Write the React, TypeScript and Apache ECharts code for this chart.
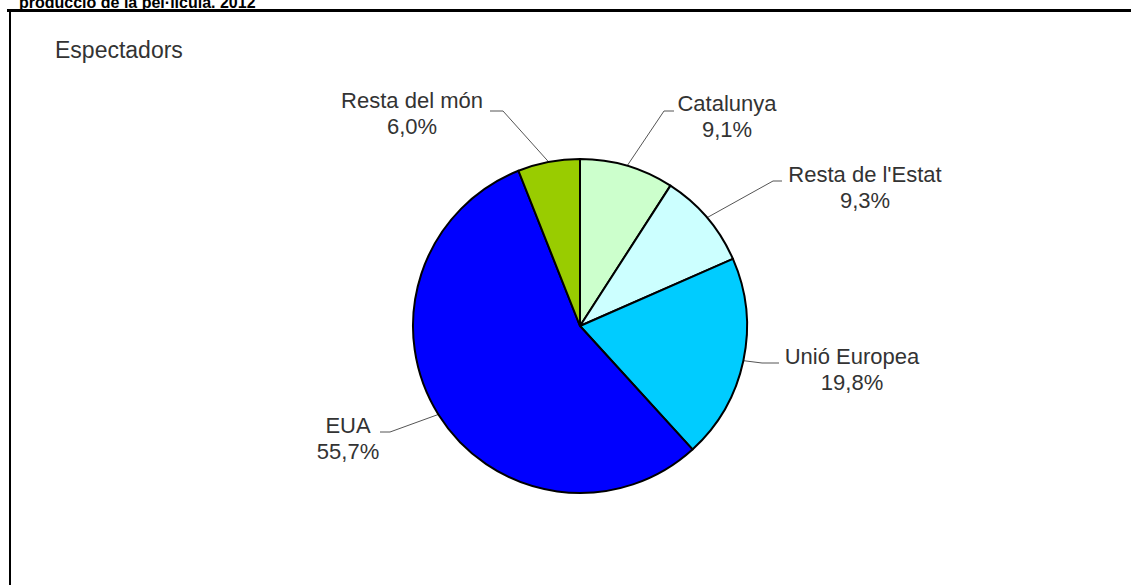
import React, { useEffect, useRef } from "react";
import * as echarts from "echarts";

const categories = ["Catalunya", "Resta de l'Estat", "Unió Europea", "EUA", "Resta del món"];
const values = [9.1, 9.3, 19.8, 55.7, 6.0];
const colors = ["#ccffcc", "#ccffff", "#00ccff", "#0000ff", "#99cc00"];
const titleText = "producció de la pel·lícula. 2012";
const subtitleText = "Espectadors";

// label placement: block centre, elbow of leader line, end of leader line
const labelPlacement = [
  { cx: 727, cy: 116, elbow: [664, 111], end: [674, 111] },
  { cx: 865, cy: 187, elbow: [773, 181], end: [782, 181] },
  { cx: 852, cy: 369, elbow: [762, 363], end: [779, 363] },
  { cx: 348, cy: 438, elbow: [390, 432], end: [380, 432] },
  { cx: 412, cy: 113, elbow: [503, 111], end: [490, 111] },
];

export default function App() {
  const ref = useRef<HTMLDivElement>(null);
  useEffect(() => {
    const chart = echarts.init(ref.current!, null, { renderer: "svg" });
    chart.setOption({
      animation: false,
      backgroundColor: "#ffffff",
      graphic: [
        {
          type: "text",
          x: 19,
          y: 10.5,
          style: {
            text: titleText,
            font: "bold 16px Arial, 'Liberation Sans', sans-serif",
            fill: "#000",
            verticalAlign: "bottom",
          },
        },
        { type: "line", shape: { x1: 7, y1: 10.5, x2: 1131, y2: 10.5 }, style: { stroke: "#000", lineWidth: 3 }, z: 10 },
        { type: "line", shape: { x1: 10, y1: 10, x2: 10, y2: 585 }, style: { stroke: "#000", lineWidth: 2 } },
        {
          type: "text",
          left: 55,
          top: 38,
          style: { text: subtitleText, font: "23px Arial, 'Liberation Sans', sans-serif", fill: "#333" },
        },
      ],
      series: [
        {
          type: "pie",
          center: [580, 326],
          radius: [0, 167],
          startAngle: 90,
          clockwise: true,
          itemStyle: { borderColor: "#000", borderWidth: 2 },
          label: {
            show: true,
            formatter: (p: any) => `${p.name}\n${p.value.toFixed(1).replace(".", ",")}%`,
            color: "#333",
            fontSize: 22,
            fontFamily: "Arial, 'Liberation Sans', sans-serif",
            lineHeight: 26,
            align: "center",
          },
          labelLine: { show: true, lineStyle: { color: "#555", width: 1 } },
          labelLayout: (params: any) => {
            const pl = labelPlacement[params.dataIndex];
            const start = params.labelLinePoints ? params.labelLinePoints[0] : [0, 0];
            return {
              x: pl.cx,
              y: pl.cy,
              align: "center",
              verticalAlign: "middle",
              labelLinePoints: [start, pl.elbow, pl.end],
            };
          },
          data: categories.map((c, i) => ({ name: c, value: values[i], itemStyle: { color: colors[i] } })),
        },
      ],
    });
    return () => chart.dispose();
  }, []);
  return <div ref={ref} style={{ position: "absolute", left: 0, top: 0, width: 1131, height: 585 }} />;
}
